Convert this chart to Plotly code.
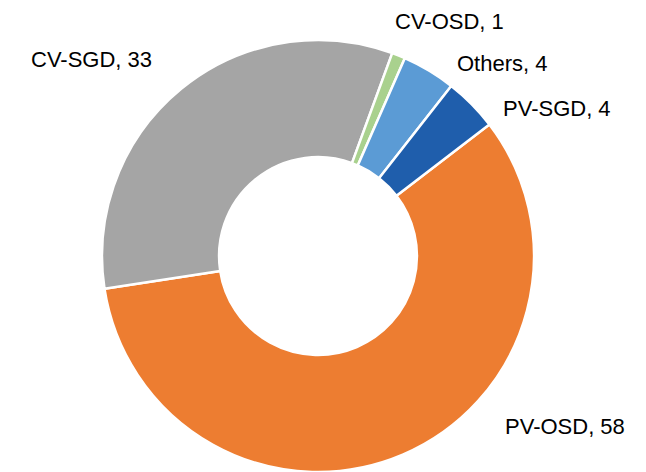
import plotly.graph_objects as go

# Share by segment (%), clockwise starting at the PV-OSD slice
segments = ["PV-OSD", "CV-SGD", "CV-OSD", "Others", "PV-SGD"]
shares = [58, 33, 1, 4, 4]
colors = ["#ED7D31", "#A5A5A5", "#A9D18E", "#5B9BD5", "#1F5EAC"]

# Label anchor points (pixels from the top-left of the 646x472 canvas)
W, H = 646, 472
label_pos = {
    "PV-OSD": (503, 426),
    "CV-SGD": (29, 59),
    "CV-OSD": (393, 22),
    "Others": (455, 64),
    "PV-SGD": (501, 109),
}

FONT = "Liberation Sans, Arial, sans-serif"

cx, cy, r = 318, 256, 216
fig = go.Figure(
    go.Pie(
        labels=segments,
        values=shares,
        sort=False,
        direction="clockwise",
        rotation=52.5,
        hole=0.458,
        marker=dict(colors=colors, line=dict(color="white", width=2.5)),
        textinfo="none",
        hoverinfo="label+value",
        domain=dict(x=[(cx - r) / W, (cx + r) / W], y=[(H - cy - r) / H, (H - cy + r) / H]),
        showlegend=False,
    )
)

annotations = []
for name, val in zip(segments, shares):
    px, py = label_pos[name]
    annotations.append(
        dict(
            text=f"{name}, {val}",
            x=px / W,
            y=1 - py / H,
            xref="paper",
            yref="paper",
            xanchor="left",
            yanchor="middle",
            showarrow=False,
            font=dict(family=FONT, size=22, color="#000000"),
        )
    )

fig.update_layout(
    width=W,
    height=H,
    margin=dict(l=0, r=0, t=0, b=0),
    paper_bgcolor="white",
    plot_bgcolor="white",
    annotations=annotations,
)

fig.write_html("out.html")
